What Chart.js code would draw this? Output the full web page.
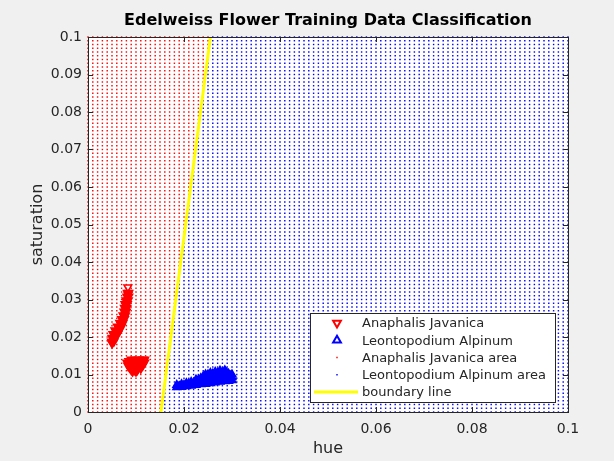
<!DOCTYPE html>
<html>
<head>
<meta charset="utf-8">
<script src="https://cdn.jsdelivr.net/npm/chart.js@4.4.0/dist/chart.umd.min.js"></script>
<style>
    html, body { margin: 0; padding: 0; background: #f0f0f0; }
</style>
</head>
<body>
<canvas id="edelweissChart" width="614" height="461"></canvas>
<script>
const chartTitle = 'Edelweiss Flower Training Data Classification';

// axis ticks
const hueTicks = [0, 0.02, 0.04, 0.06, 0.08, 0.1];
const hueTickLabels = ['0', '0.02', '0.04', '0.06', '0.08', '0.1'];
const satTicks = [0, 0.01, 0.02, 0.03, 0.04, 0.05, 0.06, 0.07, 0.08, 0.09, 0.1];
const satTickLabels = ['0', '0.01', '0.02', '0.03', '0.04', '0.05', '0.06', '0.07', '0.08', '0.09', '0.1'];

// training samples
const anaphalisHue = [0.0083, 0.0082, 0.0085, 0.0081, 0.0085, 0.0079, 0.0084, 0.0077, 0.0082, 0.0076, 0.0081,
    0.0075, 0.0080, 0.0073, 0.0078, 0.0070, 0.0076, 0.0066, 0.0073, 0.0061, 0.0070, 0.0056, 0.0066,
    0.0052, 0.0062, 0.0050, 0.0057, 0.0049, 0.0054, 0.0050,
    0.00835, 0.0081, 0.00785, 0.0076, 0.0073, 0.0069, 0.0065, 0.0060, 0.0056, 0.0053,
    0.0090, 0.0098, 0.0106, 0.0114, 0.0118, 0.0081, 0.0088, 0.0096, 0.0104, 0.0112, 0.0118,
    0.0083, 0.0091, 0.0099, 0.0107, 0.0114, 0.0088, 0.0096, 0.0104, 0.0110, 0.0093, 0.0100,
    0.0085, 0.0094, 0.0102, 0.0110, 0.0116, 0.0087, 0.0095, 0.0103, 0.0111,
    0.0086, 0.0094, 0.0102, 0.0109, 0.0091, 0.0097, 0.0103];
const anaphalisSat = [0.0333, 0.0318, 0.0318, 0.0308, 0.0308, 0.0298, 0.0298, 0.0288, 0.0288, 0.0278, 0.0278,
    0.0268, 0.0268, 0.0258, 0.0258, 0.0248, 0.0248, 0.0238, 0.0238, 0.0228, 0.0228, 0.0218, 0.0218,
    0.0208, 0.0208, 0.0198, 0.0198, 0.0188, 0.0188, 0.0183,
    0.0313, 0.0293, 0.0273, 0.0253, 0.0243, 0.0233, 0.0223, 0.0213, 0.0203, 0.0193,
    0.0140, 0.0140, 0.0140, 0.0140, 0.0140, 0.0132, 0.0132, 0.0132, 0.0132, 0.0132, 0.0132,
    0.0124, 0.0124, 0.0124, 0.0124, 0.0124, 0.0116, 0.0116, 0.0116, 0.0116, 0.0108, 0.0108,
    0.0136, 0.0136, 0.0136, 0.0136, 0.0136, 0.0128, 0.0128, 0.0128, 0.0128,
    0.0120, 0.0120, 0.0120, 0.0120, 0.0112, 0.0112, 0.0112];

const leontoHue = [0.0185, 0.0185, 0.0195, 0.0195, 0.0205, 0.0205, 0.0215, 0.0215,
    0.0225, 0.0225, 0.0225, 0.0235, 0.0235, 0.0235,
    0.0245, 0.0245, 0.0245, 0.0245, 0.0255, 0.0255, 0.0255, 0.0255, 0.0265, 0.0265, 0.0265, 0.0265,
    0.0275, 0.0275, 0.0275, 0.0275, 0.0285, 0.0285, 0.0285, 0.0285,
    0.0293, 0.0293, 0.0293, 0.0300, 0.0300, 0.0300,
    0.0190, 0.0200, 0.0210, 0.0220, 0.0230, 0.0230, 0.0240, 0.0240, 0.0240,
    0.0250, 0.0250, 0.0250, 0.0260, 0.0260, 0.0260, 0.0270, 0.0270, 0.0270,
    0.0280, 0.0280, 0.0280, 0.0289, 0.0289, 0.0289, 0.0297, 0.0297];
const leontoSat = [0.0066, 0.0072, 0.0067, 0.0074, 0.0069, 0.0077, 0.0070, 0.0080,
    0.0072, 0.0082, 0.0086, 0.0074, 0.0082, 0.0090,
    0.0075, 0.0084, 0.0094, 0.0100, 0.0077, 0.0086, 0.0096, 0.0104, 0.0079, 0.0088, 0.0098, 0.0107,
    0.0081, 0.0090, 0.0100, 0.0110, 0.0082, 0.0091, 0.0101, 0.0111,
    0.0083, 0.0092, 0.0102, 0.0085, 0.0093, 0.0100,
    0.0069, 0.0072, 0.0075, 0.0078, 0.0080, 0.0086, 0.0080, 0.0088, 0.0095,
    0.0081, 0.0090, 0.0100, 0.0083, 0.0092, 0.0102, 0.0085, 0.0094, 0.0104,
    0.0086, 0.0096, 0.0106, 0.0087, 0.0097, 0.0105, 0.0089, 0.0097];

// decision boundary
const boundaryHue = [0.0152, 0.0255];
const boundarySat = [0, 0.1];

// classification mesh
const gridStep = 0.001;
const gridCount = 100;

const FONT = 'DejaVu Sans';
const AXIS_COLOR = '#262626';

function toPoints(xs, ys) {
    return xs.map((x, i) => ({ x: x, y: ys[i] }));
}

function boundaryAt(sat) {
    const t = (sat - boundarySat[0]) / (boundarySat[1] - boundarySat[0]);
    return boundaryHue[0] + t * (boundaryHue[1] - boundaryHue[0]);
}

const javanicaArea = [];
const alpinumArea = [];
for (let i = 0; i <= gridCount; i++) {
    for (let j = 0; j <= gridCount; j++) {
        const h = i * gridStep;
        const s = j * gridStep;
        if (h < boundaryAt(s)) {
            javanicaArea.push({ x: h, y: s });
        } else {
            alpinumArea.push({ x: h, y: s });
        }
    }
}

// white plot area, box with inward ticks, title and legend like matlab
const matlabAxes = {
    id: 'matlabAxes',
    beforeDraw(chart) {
        const ca = chart.chartArea;
        const ctx = chart.ctx;
        ctx.save();
        ctx.fillStyle = '#ffffff';
        ctx.fillRect(ca.left, ca.top, ca.right - ca.left, ca.bottom - ca.top);
        ctx.restore();
    },
    afterDatasetsDraw(chart) {
        const ca = chart.chartArea;
        const ctx = chart.ctx;
        const xs = chart.scales.x;
        const ys = chart.scales.y;
        ctx.save();

        // box
        ctx.strokeStyle = AXIS_COLOR;
        ctx.lineWidth = 1;
        ctx.strokeRect(Math.round(ca.left) + 0.5, Math.round(ca.top) + 0.5,
            Math.round(ca.right - ca.left), Math.round(ca.bottom - ca.top));

        // ticks
        ctx.beginPath();
        hueTicks.forEach(v => {
            const px = Math.round(xs.getPixelForValue(v)) + 0.5;
            ctx.moveTo(px, ca.bottom); ctx.lineTo(px, ca.bottom - 5);
            ctx.moveTo(px, ca.top); ctx.lineTo(px, ca.top + 5);
        });
        satTicks.forEach(v => {
            const py = Math.round(ys.getPixelForValue(v)) + 0.5;
            ctx.moveTo(ca.left, py); ctx.lineTo(ca.left + 5, py);
            ctx.moveTo(ca.right, py); ctx.lineTo(ca.right - 5, py);
        });
        ctx.stroke();

        // title
        ctx.fillStyle = '#000000';
        ctx.font = 'bold 16px "' + FONT + '"';
        ctx.textAlign = 'center';
        ctx.textBaseline = 'middle';
        ctx.fillText(chartTitle, (ca.left + ca.right) / 2, 21);

        // legend
        const lg = { left: ca.right - 258, top: ca.bottom - 99, width: 245, height: 89 };
        ctx.fillStyle = '#ffffff';
        ctx.fillRect(lg.left, lg.top, lg.width, lg.height);
        ctx.strokeStyle = AXIS_COLOR;
        ctx.strokeRect(lg.left + 0.5, lg.top + 0.5, lg.width, lg.height);

        ctx.font = '13px "' + FONT + '"';
        ctx.textAlign = 'left';
        chart.data.datasets.forEach((ds, i) => {
            const y = lg.top + 10 + i * 17.25;
            const mx = lg.left + 27;
            if (ds.showLine) {
                ctx.strokeStyle = ds.borderColor;
                ctx.lineWidth = ds.borderWidth;
                ctx.beginPath();
                ctx.moveTo(lg.left + 4, y);
                ctx.lineTo(lg.left + 48, y);
                ctx.stroke();
            } else {
                const big = ds.pointRadius > 2;
                ctx.fillStyle = big ? '#ffffff' : ds.pointBackgroundColor;
                ctx.strokeStyle = ds.pointBorderColor;
                ctx.lineWidth = big ? 2 : 0;
                Chart.helpers.drawPoint(ctx, {
                    pointStyle: ds.pointStyle,
                    rotation: ds.pointRotation || 0,
                    radius: ds.pointRadius,
                    borderWidth: big ? 2 : 0
                }, mx, y);
            }
            ctx.fillStyle = AXIS_COLOR;
            ctx.fillText(ds.label, lg.left + 52, y + 1);
        });
        ctx.restore();
    }
};

const ctx = document.getElementById('edelweissChart').getContext('2d');
const edelweissChart = new Chart(ctx, {
    type: 'scatter',
    data: {
        datasets: [
            {
                label: 'Anaphalis Javanica',
                data: toPoints(anaphalisHue, anaphalisSat),
                pointStyle: 'triangle',
                pointRotation: 180,
                pointRadius: 4.5,
                pointBorderWidth: 1.5,
                pointBorderColor: '#ff0000',
                pointBackgroundColor: c => c.index === 0 ? 'rgba(255,255,255,0)' : '#ff0000',
                order: 1
            },
            {
                label: 'Leontopodium Alpinum',
                data: toPoints(leontoHue, leontoSat),
                pointStyle: 'triangle',
                pointRadius: 4.5,
                pointBorderWidth: 1.5,
                pointBorderColor: '#0000ff',
                pointBackgroundColor: '#0000ff',
                order: 1
            },
            {
                label: 'Anaphalis Javanica area',
                data: javanicaArea,
                pointStyle: 'rect',
                pointRadius: 1,
                pointBorderWidth: 0,
                pointBorderColor: '#ff0000',
                pointBackgroundColor: '#ff0000',
                clip: false,
                order: 3
            },
            {
                label: 'Leontopodium Alpinum area',
                data: alpinumArea,
                pointStyle: 'rect',
                pointRadius: 1,
                pointBorderWidth: 0,
                pointBorderColor: '#0000ff',
                pointBackgroundColor: '#0000ff',
                clip: false,
                order: 3
            },
            {
                label: 'boundary line',
                data: toPoints(boundaryHue, boundarySat),
                showLine: true,
                borderColor: '#ffff00',
                borderWidth: 3,
                pointRadius: 0,
                order: 0
            }
        ]
    },
    options: {
        responsive: false,
        animation: false,
        events: [],
        layout: { padding: { top: 37, right: 46, left: 0, bottom: 0 } },
        plugins: {
            legend: { display: false },
            tooltip: { enabled: false },
            title: { display: false }
        },
        scales: {
            x: {
                type: 'linear',
                min: 0,
                max: 0.1,
                afterBuildTicks: s => { s.ticks = hueTicks.map(v => ({ value: v })); },
                afterFit: s => { s.height = 49; },
                ticks: {
                    callback: (v, i) => hueTickLabels[i],
                    padding: 9,
                    maxRotation: 0,
                    autoSkip: false,
                    color: AXIS_COLOR,
                    font: { family: FONT, size: 14 }
                },
                grid: { display: false, drawTicks: false },
                border: { display: false },
                title: {
                    display: true,
                    text: 'hue',
                    color: AXIS_COLOR,
                    font: { family: FONT, size: 16 },
                    padding: { top: 0, bottom: 3 }
                }
            },
            y: {
                type: 'linear',
                min: 0,
                max: 0.1,
                afterBuildTicks: s => { s.ticks = satTicks.map(v => ({ value: v })); },
                afterFit: s => { s.width = 88; },
                ticks: {
                    callback: (v, i) => satTickLabels[i],
                    padding: 6,
                    autoSkip: false,
                    color: AXIS_COLOR,
                    font: { family: FONT, size: 14 }
                },
                grid: { display: false, drawTicks: false },
                border: { display: false },
                title: {
                    display: true,
                    text: 'saturation',
                    color: AXIS_COLOR,
                    font: { family: FONT, size: 16 },
                    padding: { top: 28, bottom: 0 }
                }
            }
        }
    },
    plugins: [matlabAxes]
});
</script>
</body>
</html>
